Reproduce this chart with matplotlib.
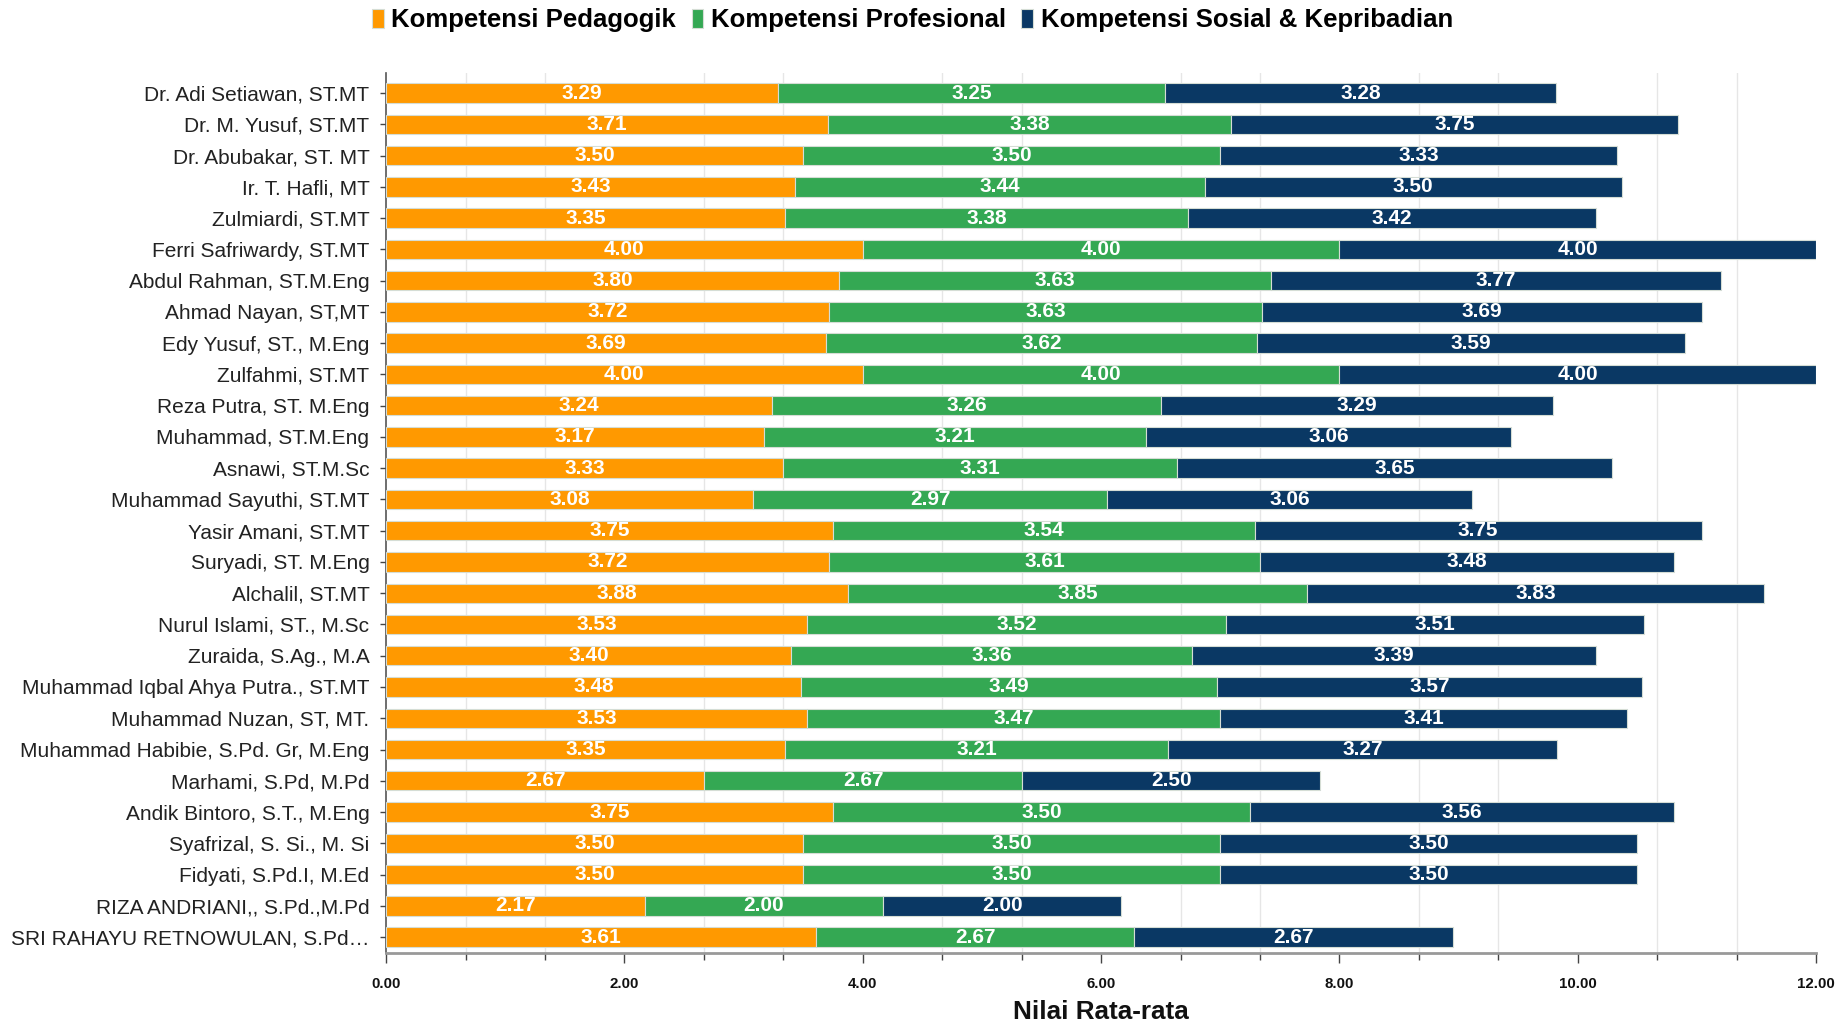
import matplotlib
matplotlib.use("Agg")
import matplotlib.pyplot as plt
import numpy as np
from matplotlib.ticker import FixedLocator

plt.rcParams['font.family'] = ['Liberation Sans', 'DejaVu Sans']

names = [
    "Dr. Adi Setiawan, ST.MT", "Dr. M. Yusuf, ST.MT", "Dr. Abubakar, ST. MT",
    "Ir. T. Hafli, MT", "Zulmiardi, ST.MT", "Ferri Safriwardy, ST.MT",
    "Abdul Rahman, ST.M.Eng", "Ahmad Nayan, ST,MT", "Edy Yusuf, ST., M.Eng",
    "Zulfahmi, ST.MT", "Reza Putra, ST. M.Eng", "Muhammad, ST.M.Eng",
    "Asnawi, ST.M.Sc", "Muhammad Sayuthi, ST.MT", "Yasir Amani, ST.MT",
    "Suryadi, ST. M.Eng", "Alchalil, ST.MT", "Nurul Islami, ST., M.Sc",
    "Zuraida, S.Ag., M.A", "Muhammad Iqbal Ahya Putra., ST.MT",
    "Muhammad Nuzan, ST, MT.", "Muhammad Habibie, S.Pd. Gr, M.Eng",
    "Marhami, S.Pd, M.Pd", "Andik Bintoro, S.T., M.Eng",
    "Syafrizal, S. Si., M. Si", "Fidyati, S.Pd.I, M.Ed",
    "RIZA ANDRIANI,, S.Pd.,M.Pd", "SRI RAHAYU RETNOWULAN, S.Pd\u2026",
]
pedagogik = [3.29, 3.71, 3.50, 3.43, 3.35, 4.00, 3.80, 3.72, 3.69, 4.00,
             3.24, 3.17, 3.33, 3.08, 3.75, 3.72, 3.88, 3.53, 3.40, 3.48,
             3.53, 3.35, 2.67, 3.75, 3.50, 3.50, 2.17, 3.61]
profesional = [3.25, 3.38, 3.50, 3.44, 3.38, 4.00, 3.63, 3.63, 3.62, 4.00,
               3.26, 3.21, 3.31, 2.97, 3.54, 3.61, 3.85, 3.52, 3.36, 3.49,
               3.47, 3.21, 2.67, 3.50, 3.50, 3.50, 2.00, 2.67]
sosial = [3.28, 3.75, 3.33, 3.50, 3.42, 4.00, 3.77, 3.69, 3.59, 4.00,
          3.29, 3.06, 3.65, 3.06, 3.75, 3.48, 3.83, 3.51, 3.39, 3.57,
          3.41, 3.27, 2.50, 3.56, 3.50, 3.50, 2.00, 2.67]
series_names = ["Kompetensi Pedagogik", "Kompetensi Profesional",
                "Kompetensi Sosial & Kepribadian"]
colors = ["#FF9900", "#34A853", "#0A3864"]
x_major = [0, 2, 4, 6, 8, 10, 12]

fig = plt.figure(figsize=(18.49, 10.23), dpi=100)
ax = fig.add_axes([0.2088, 0.0684, 0.9822 - 0.2088, 0.9286 - 0.0684])

y = np.arange(len(names))
left = np.zeros(len(names))
handles = []
for vals, col, lab in zip([pedagogik, profesional, sosial], colors, series_names):
    vals = np.array(vals)
    bars = ax.barh(y, vals, left=left, height=0.62, color=col,
                   edgecolor="#d5ddd5", linewidth=0.8, label=lab, zorder=3)
    handles.append(bars)
    for yi, l, v in zip(y, left, vals):
        ax.text(l + v / 2, yi, f"{v:.2f}", ha="center", va="center",
                color="white", fontsize=15, fontweight="bold", zorder=4)
    left = left + vals

ax.set_ylim(27.51, -0.64)
ax.set_xlim(0, 12)
ax.set_yticks(y)
ax.set_yticklabels(names, fontsize=15, color="#222222")
ax.tick_params(axis="y", direction="inout", length=8, width=1, color="#444444", pad=8)

ax.xaxis.set_major_locator(FixedLocator(x_major))
ax.xaxis.set_minor_locator(FixedLocator([i * 2 / 3 for i in range(19)]))
ax.set_xticklabels([f"{v:.2f}" for v in x_major], fontsize=10.8, fontweight="bold", color="#111111")
ax.tick_params(axis="x", which="major", direction="out", length=7, width=1, color="#444444", pad=10)
ax.tick_params(axis="x", which="minor", direction="out", length=5, width=1, color="#444444")
ax.grid(axis="x", which="minor", color="#e6e6e6", linewidth=1, zorder=0)
ax.grid(axis="y", visible=False)

for s in ["top", "right"]:
    ax.spines[s].set_visible(False)
ax.spines["left"].set_color("#555555")
ax.spines["left"].set_linewidth(1.2)
ax.spines["bottom"].set_color("#999999")
ax.spines["bottom"].set_linewidth(2)

ax.set_xlabel("Nilai Rata-rata", fontsize=18.8, fontweight="bold", color="#111111", labelpad=7)

fig.legend(handles=handles, labels=series_names, loc="center", bbox_to_anchor=(0.4935, 0.98),
           ncol=3, frameon=False, prop={"size": 18.5, "weight": "bold"},
           handlelength=0.45, handleheight=0.8, handletextpad=0.3, columnspacing=0.6)

fig.savefig("out.png", dpi=100)
